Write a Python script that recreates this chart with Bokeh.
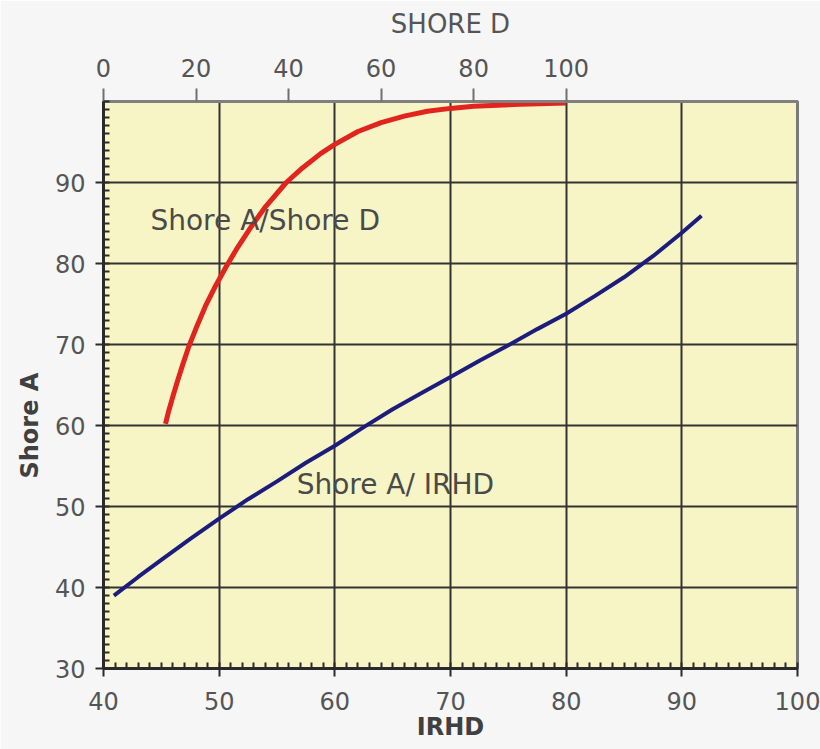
from bokeh.plotting import figure
from bokeh.models import Range1d, LinearAxis, FixedTicker, Label, Grid, Title
from bokeh.embed import file_html
from bokeh.resources import INLINE

# ---- data ----
irhd = [40.9, 43, 45, 47.5, 50, 52.5, 55, 57.5, 60, 62.5, 65, 67.5, 70, 72.5, 75,
        77.5, 80, 82.5, 85, 87.5, 90, 91.7]
shore_a_vs_irhd = [39.0, 41.3, 43.4, 46.0, 48.5, 50.9, 53.1, 55.4, 57.5, 59.8, 62.0,
                   64.0, 66.0, 68.0, 69.9, 71.9, 73.8, 76.0, 78.3, 80.9, 83.8, 85.9]

shore_d = [13.4, 14, 15, 16, 17, 18.4, 20, 22, 24, 26.5, 29, 32, 35, 39.5, 43, 47,
           50, 55, 60, 65, 70, 75, 80, 90, 100]
shore_a_vs_d = [60.2, 61.6, 63.6, 65.5, 67.3, 69.7, 72.0, 74.7, 77.0, 79.6, 82.0,
                84.6, 87.0, 90.0, 91.8, 93.6, 94.7, 96.3, 97.4, 98.2, 98.8, 99.15,
                99.4, 99.65, 99.8]

irhd_ticks = [40, 50, 60, 70, 80, 90, 100]
shore_a_ticks = [30, 40, 50, 60, 70, 80, 90]
shore_d_ticks = [0, 20, 40, 60, 80, 100]

FONT = "DejaVu Sans"
TICK_COLOR = "#555555"
DARK = "#2a2a2a"

p = figure(width=820, height=749,
           x_range=Range1d(40, 100), y_range=Range1d(30, 100),
           x_axis_type=None, y_axis_type=None,
           output_backend="svg", toolbar_location=None,
           min_border_left=103, min_border_right=23,
           min_border_top=101, min_border_bottom=81)
p.extra_x_ranges = {"shored": Range1d(0, 150)}

p.background_fill_color = "#f7f4c5"
p.border_fill_color = "#f6f6f6"
p.outline_line_color = "#7a7a7a"
p.outline_line_width = 3

# grids
p.add_layout(Grid(dimension=0, ticker=FixedTicker(ticks=irhd_ticks),
                  grid_line_color="#333333", grid_line_width=2))
p.add_layout(Grid(dimension=1, ticker=FixedTicker(ticks=shore_a_ticks),
                  grid_line_color="#333333", grid_line_width=2))

# bottom axis
xa = LinearAxis(ticker=FixedTicker(ticks=irhd_ticks, minor_ticks=list(range(40, 101))),
                axis_label="IRHD")
# left axis
ya = LinearAxis(ticker=FixedTicker(ticks=shore_a_ticks, minor_ticks=list(range(30, 101))))
for ax in (xa, ya):
    ax.axis_line_color = DARK
    ax.axis_line_width = 3
    ax.major_tick_line_color = DARK
    ax.major_tick_line_width = 2
    ax.major_tick_out = 8
    ax.major_tick_in = 0
    ax.minor_tick_line_color = DARK
    ax.minor_tick_line_width = 2
    ax.minor_tick_in = 6
    ax.minor_tick_out = 0
    ax.major_label_text_font = FONT
    ax.major_label_text_font_size = "24px"
    ax.major_label_text_color = TICK_COLOR
xa.major_label_standoff = 15
xa.axis_label_standoff = 0
xa.axis_label_text_font = FONT
xa.axis_label_text_font_size = "24px"
xa.axis_label_text_font_style = "bold"
xa.axis_label_text_color = "#404040"
ya.major_label_standoff = 10
p.add_layout(xa, "below")
p.add_layout(ya, "left")

# y axis title, placed lower than centre as in the reference
p.add_layout(Title(text="Shore A", align="left", offset=190, standoff=16,
                   text_font=FONT, text_font_size="24px", text_font_style="bold",
                   text_color="#404040"), "left")

# top axis (Shore D)
ta = LinearAxis(x_range_name="shored", ticker=FixedTicker(ticks=shore_d_ticks),
                axis_label="SHORE D")
ta.axis_line_color = "#808080"
ta.axis_line_width = 3
ta.major_tick_line_color = "#707070"
ta.major_tick_line_width = 2
ta.major_tick_out = 13
ta.major_tick_in = 0
ta.minor_tick_line_color = None
ta.major_label_text_font = FONT
ta.major_label_text_font_size = "24px"
ta.major_label_text_color = TICK_COLOR
ta.major_label_standoff = 12
ta.axis_label_text_font = FONT
ta.axis_label_text_font_size = "26px"
ta.axis_label_text_font_style = "normal"
ta.axis_label_text_color = "#555555"
ta.axis_label_standoff = 17
p.add_layout(ta, "above")

# curves
p.line(irhd, shore_a_vs_irhd, line_color="#1c1c7c", line_width=4)
p.line(shore_d, shore_a_vs_d, x_range_name="shored", line_color="#e2241f", line_width=5)

# labels
p.add_layout(Label(x=44.06, y=85.3, text="Shore A/Shore D", text_font=FONT,
                   text_font_size="28px", text_color="#4a4a4a",
                   text_align="left", text_baseline="middle"))
p.add_layout(Label(x=56.7, y=52.7, text="Shore A/ IRHD", text_font=FONT,
                   text_font_size="28px", text_color="#4a4a4a",
                   text_align="left", text_baseline="middle"))

open("out.html", "w").write(file_html(p, INLINE))
